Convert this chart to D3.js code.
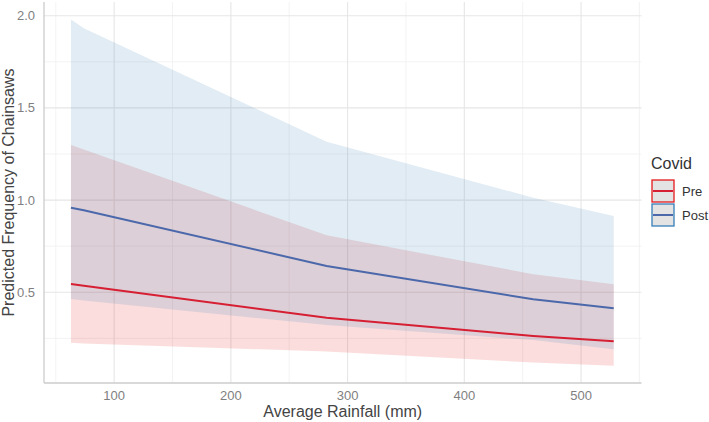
<!DOCTYPE html>
<html>
<head>
<meta charset="utf-8">
<script src="https://cdn.jsdelivr.net/npm/d3@7"></script>
<style>
  body { margin: 0; background: #fff; }
  text { font-family: "Liberation Sans", Arial, sans-serif; }
</style>
</head>
<body>
<svg id="chart" width="709" height="422"></svg>
<script>
// rainfall values where the model was evaluated
const rainfall = [63, 74, 282, 459, 528];

const preFit = [0.545, 0.536, 0.362, 0.263, 0.234];
const preLower = [0.227, 0.222, 0.179, 0.119, 0.102];
const preUpper = [1.299, 1.275, 0.809, 0.598, 0.543];

const postFit = [0.959, 0.945, 0.643, 0.462, 0.413];
const postLower = [0.464, 0.455, 0.322, 0.241, 0.191];
const postUpper = [1.980, 1.932, 1.317, 1.013, 0.914];

const xTicks = [100, 200, 300, 400, 500];
const xMinor = [50, 150, 250, 350, 450, 550];
const yTicks = [0.5, 1.0, 1.5, 2.0];
const yMinor = [0.25, 0.75, 1.25, 1.75];

const groups = ["Pre", "Post"];
const lineColors = { Pre: "#d61f33", Post: "#4b68ab" };
const fillColors = { Pre: "#e41a1c", Post: "#377eb8" };

const svg = d3.select("#chart");
const panel = { left: 44, right: 641.5, top: 2, bottom: 383 };

const x = d3.scaleLinear().domain([39.9, 551.8]).range([panel.left, panel.right]);
const y = d3.scaleLinear().domain([0, 2]).range([384.5, 15.7]);

// grid
const grid = svg.append("g");
grid.selectAll(".vminor").data(xMinor).enter().append("line")
    .attr("x1", d => x(d)).attr("x2", d => x(d))
    .attr("y1", panel.top).attr("y2", panel.bottom)
    .attr("stroke", "#f0f0f0").attr("stroke-width", 0.8);
grid.selectAll(".hminor").data(yMinor).enter().append("line")
    .attr("x1", panel.left).attr("x2", panel.right)
    .attr("y1", d => y(d)).attr("y2", d => y(d))
    .attr("stroke", "#f0f0f0").attr("stroke-width", 0.8);
grid.selectAll(".vmajor").data(xTicks).enter().append("line")
    .attr("x1", d => x(d)).attr("x2", d => x(d))
    .attr("y1", panel.top).attr("y2", panel.bottom)
    .attr("stroke", "#e6e6e6").attr("stroke-width", 1.1);
grid.selectAll(".hmajor").data(yTicks).enter().append("line")
    .attr("x1", panel.left).attr("x2", panel.right)
    .attr("y1", d => y(d)).attr("y2", d => y(d))
    .attr("stroke", "#e6e6e6").attr("stroke-width", 1.1);

// ribbons
const series = [
  { key: "Pre", fit: preFit, lo: preLower, hi: preUpper },
  { key: "Post", fit: postFit, lo: postLower, hi: postUpper }
];

const area = d3.area()
    .x(d => x(d.r))
    .y0(d => y(d.lo))
    .y1(d => y(d.hi));
const line = d3.line()
    .x(d => x(d.r))
    .y(d => y(d.v));

series.forEach(s => {
  const pts = rainfall.map((r, i) => ({ r: r, lo: s.lo[i], hi: s.hi[i] }));
  svg.append("path")
      .attr("d", area(pts))
      .attr("fill", fillColors[s.key])
      .attr("fill-opacity", 0.15);
});
series.forEach(s => {
  const pts = rainfall.map((r, i) => ({ r: r, v: s.fit[i] }));
  svg.append("path")
      .attr("d", line(pts))
      .attr("fill", "none")
      .attr("stroke", lineColors[s.key])
      .attr("stroke-width", 2);
});

// axes lines
svg.append("line")
    .attr("x1", panel.left).attr("x2", panel.left)
    .attr("y1", panel.top).attr("y2", panel.bottom)
    .attr("stroke", "#cccccc").attr("stroke-width", 1.3);
svg.append("line")
    .attr("x1", panel.left).attr("x2", panel.right)
    .attr("y1", panel.bottom).attr("y2", panel.bottom)
    .attr("stroke", "#cccccc").attr("stroke-width", 1.3);

// tick labels
svg.selectAll(".xlab").data(xTicks).enter().append("text")
    .attr("x", d => x(d)).attr("y", 400)
    .attr("text-anchor", "middle")
    .attr("font-size", 13).attr("fill", "#7f7f7f")
    .text(d => d);
svg.selectAll(".ylab").data(yTicks).enter().append("text")
    .attr("x", 35).attr("y", d => y(d)).attr("dy", "0.35em")
    .attr("text-anchor", "end")
    .attr("font-size", 13).attr("fill", "#7f7f7f")
    .text(d => d3.format(".1f")(d));

// axis titles
svg.append("text")
    .attr("x", (panel.left + panel.right) / 2).attr("y", 417)
    .attr("text-anchor", "middle")
    .attr("font-size", 16).attr("fill", "#444")
    .text("Average Rainfall (mm)");
svg.append("text")
    .attr("transform", `translate(14, ${(panel.top + panel.bottom) / 2}) rotate(-90)`)
    .attr("text-anchor", "middle")
    .attr("font-size", 16).attr("fill", "#444")
    .text("Predicted Frequency of Chainsaws");

// legend
const legend = svg.append("g").attr("transform", "translate(651, 0)");
legend.append("text")
    .attr("x", 0).attr("y", 169)
    .attr("font-size", 16).attr("fill", "#333")
    .text("Covid");
groups.forEach((g, i) => {
  const top = 180 + i * 24;
  legend.append("rect")
      .attr("x", 1).attr("y", top).attr("width", 22).attr("height", 22)
      .attr("fill", "#e3e3e3")
      .attr("stroke", fillColors[g]).attr("stroke-width", 1.3);
  legend.append("line")
      .attr("x1", 2).attr("x2", 22)
      .attr("y1", top + 11).attr("y2", top + 11)
      .attr("stroke", lineColors[g]).attr("stroke-width", 2);
  legend.append("text")
      .attr("x", 31).attr("y", top + 11).attr("dy", "0.35em")
      .attr("font-size", 13).attr("fill", "#333")
      .text(g);
});
</script>
</body>
</html>
